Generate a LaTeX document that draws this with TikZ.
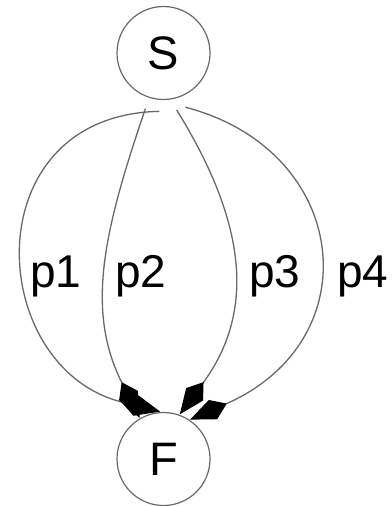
\documentclass[tikz,border=0pt]{standalone}
\usepackage{fontspec}
\setmainfont{Liberation Sans}
\usetikzlibrary{arrows.meta}
\definecolor{edgegray}{RGB}{105,105,105}
\begin{document}
\begin{tikzpicture}[x=1pt,y=-1pt,
    vertex/.style={draw=edgegray,line width=1.2pt,circle,minimum size=93pt,inner sep=0pt,font=\fontsize{47}{56}\selectfont},
    pathline/.style={draw=edgegray,line width=1.3pt,-{Kite[length=40pt,width=21pt,inset=15pt,color=black]}},
    plabel/.style={anchor=base west,inner sep=0pt,font=\fontsize{46}{56}\selectfont}]
	  \useasboundingbox (0,0) rectangle (391,506);
	  \node[vertex,outer sep=12pt] (S) at (163.5,53) {S};
	  \node[vertex,outer sep=1pt] (F) at (163.5,459) {F};
	  \draw[pathline] (S.-94) .. controls (-27,115) and (-15,368) .. (F.94);
	  \draw[pathline] (S.-108) .. controls (104,230) and (85,310) .. (F.120);
	  \draw[pathline] (S.-77) .. controls (245,220) and (257,310) .. (F.70);
	  \draw[pathline] (S.-68) .. controls (350,150) and (372,340) .. (F.56);
	  \node[plabel] (l1) at (30,287) {p1};
	  \node[plabel] (l2) at (115,287) {p2};
	  \node[plabel] (l3) at (249,287) {p3};
	  \node[plabel] (l4) at (337,287) {p4};
	\end{tikzpicture}
\end{document}
